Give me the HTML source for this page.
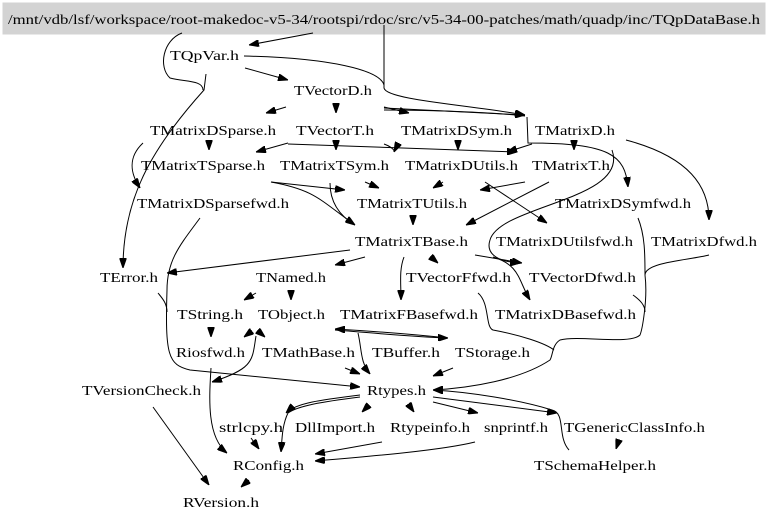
<!DOCTYPE html>
<html><head><meta charset="utf-8"><style>
html,body{margin:0;padding:0;background:#fff;}
svg{display:block;}
text{font-family:"Liberation Serif",serif;font-size:14px;fill:#000;}
path{fill:none;stroke:#000;stroke-width:1;}
</style></head><body>
<svg width="768" height="520" viewBox="0 0 768 520" xmlns="http://www.w3.org/2000/svg">
<defs><marker id="a" markerWidth="10" markerHeight="7" refX="10" refY="3.5" orient="auto" markerUnits="userSpaceOnUse"><path d="M0,0 L10,3.5 L0,7 z" style="fill:#000;stroke:#000"/></marker></defs>
<rect x="3" y="3" width="762" height="31" fill="#d3d3d3" stroke="#d3d3d3"/>
<text x="8" y="24" textLength="752" lengthAdjust="spacingAndGlyphs">/mnt/vdb/lsf/workspace/root-makedoc-v5-34/rootspi/rdoc/src/v5-34-00-patches/math/quadp/inc/TQpDataBase.h</text>
<g>
<text x="170" y="60" textLength="69" lengthAdjust="spacingAndGlyphs">TQpVar.h</text>
<text x="294" y="95" textLength="78" lengthAdjust="spacingAndGlyphs">TVectorD.h</text>
<text x="150" y="135" textLength="126" lengthAdjust="spacingAndGlyphs">TMatrixDSparse.h</text>
<text x="296" y="135" textLength="78" lengthAdjust="spacingAndGlyphs">TVectorT.h</text>
<text x="401" y="135" textLength="111" lengthAdjust="spacingAndGlyphs">TMatrixDSym.h</text>
<text x="535" y="135" textLength="80" lengthAdjust="spacingAndGlyphs">TMatrixD.h</text>
<text x="141" y="170" textLength="124" lengthAdjust="spacingAndGlyphs">TMatrixTSparse.h</text>
<text x="280" y="170" textLength="109" lengthAdjust="spacingAndGlyphs">TMatrixTSym.h</text>
<text x="405" y="170" textLength="113" lengthAdjust="spacingAndGlyphs">TMatrixDUtils.h</text>
<text x="532" y="170" textLength="78" lengthAdjust="spacingAndGlyphs">TMatrixT.h</text>
<text x="137" y="208" textLength="152" lengthAdjust="spacingAndGlyphs">TMatrixDSparsefwd.h</text>
<text x="357" y="208" textLength="110" lengthAdjust="spacingAndGlyphs">TMatrixTUtils.h</text>
<text x="555" y="208" textLength="136" lengthAdjust="spacingAndGlyphs">TMatrixDSymfwd.h</text>
<text x="355" y="246" textLength="113" lengthAdjust="spacingAndGlyphs">TMatrixTBase.h</text>
<text x="496" y="246" textLength="137" lengthAdjust="spacingAndGlyphs">TMatrixDUtilsfwd.h</text>
<text x="651" y="246" textLength="106" lengthAdjust="spacingAndGlyphs">TMatrixDfwd.h</text>
<text x="100" y="282" textLength="58" lengthAdjust="spacingAndGlyphs">TError.h</text>
<text x="256" y="282" textLength="70" lengthAdjust="spacingAndGlyphs">TNamed.h</text>
<text x="406" y="282" textLength="105" lengthAdjust="spacingAndGlyphs">TVectorFfwd.h</text>
<text x="529" y="282" textLength="107" lengthAdjust="spacingAndGlyphs">TVectorDfwd.h</text>
<text x="177" y="319" textLength="66" lengthAdjust="spacingAndGlyphs">TString.h</text>
<text x="258" y="319" textLength="67" lengthAdjust="spacingAndGlyphs">TObject.h</text>
<text x="340" y="319" textLength="138" lengthAdjust="spacingAndGlyphs">TMatrixFBasefwd.h</text>
<text x="495" y="319" textLength="141" lengthAdjust="spacingAndGlyphs">TMatrixDBasefwd.h</text>
<text x="176" y="357" textLength="69" lengthAdjust="spacingAndGlyphs">Riosfwd.h</text>
<text x="262" y="357" textLength="93" lengthAdjust="spacingAndGlyphs">TMathBase.h</text>
<text x="372" y="357" textLength="68" lengthAdjust="spacingAndGlyphs">TBuffer.h</text>
<text x="455" y="357" textLength="75" lengthAdjust="spacingAndGlyphs">TStorage.h</text>
<text x="82" y="395" textLength="119" lengthAdjust="spacingAndGlyphs">TVersionCheck.h</text>
<text x="367" y="395" textLength="59" lengthAdjust="spacingAndGlyphs">Rtypes.h</text>
<text x="219" y="432" textLength="64" lengthAdjust="spacingAndGlyphs">strlcpy.h</text>
<text x="295" y="432" textLength="80" lengthAdjust="spacingAndGlyphs">DllImport.h</text>
<text x="390" y="432" textLength="80" lengthAdjust="spacingAndGlyphs">Rtypeinfo.h</text>
<text x="484" y="432" textLength="64" lengthAdjust="spacingAndGlyphs">snprintf.h</text>
<text x="564" y="432" textLength="141" lengthAdjust="spacingAndGlyphs">TGenericClassInfo.h</text>
<text x="233" y="470" textLength="71" lengthAdjust="spacingAndGlyphs">RConfig.h</text>
<text x="534" y="470" textLength="122" lengthAdjust="spacingAndGlyphs">TSchemaHelper.h</text>
<text x="183" y="507" textLength="76" lengthAdjust="spacingAndGlyphs">RVersion.h</text>
</g>
<g>
<path d="M313,33 L249,45" marker-end="url(#a)"/>
<path d="M182,33 C163,40 158,67 170,78 C185,82 203,80 203,90"/>
<path d="M206,74 L204,90 C150,150 123,200 123,268" marker-end="url(#a)"/>
<path d="M384,25 L384,88 C386,100 470,105 525,115" marker-end="url(#a)"/>
<path d="M244,56 C330,58 380,70 384,85"/>
<path d="M245,68 L288,80" marker-end="url(#a)"/>
<path d="M286,107 L266,113" marker-end="url(#a)"/>
<path d="M336,106 L336,113" marker-end="url(#a)"/>
<path d="M384,107 L409,113" marker-end="url(#a)"/>
<path d="M384,108 L525,115" marker-end="url(#a)"/>
<path d="M384,110 C440,110 500,113 525,116"/>
<path d="M143,143 C128,157 130,173 140,188" marker-end="url(#a)"/>
<path d="M209,143 L209,150" marker-end="url(#a)"/>
<path d="M288,143 L256,152" marker-end="url(#a)"/>
<path d="M336,143 L336,150" marker-end="url(#a)"/>
<path d="M288,144 C400,148 470,150 517,152" marker-end="url(#a)"/>
<path d="M384,144 C390,146 395,150 394,152" marker-end="url(#a)"/>
<path d="M458,143 L458,150" marker-end="url(#a)"/>
<path d="M532,144 L507,152" marker-end="url(#a)"/>
<path d="M574,143 L574,150" marker-end="url(#a)"/>
<path d="M527,117 L528,143 C610,143 625,155 628,187" marker-end="url(#a)"/>
<path d="M626,140 C690,157 709,187 709,220" marker-end="url(#a)"/>
<path d="M549,182 L466,225" marker-end="url(#a)"/>
<path d="M612,150 C630,200 500,205 490,240 C485,255 500,262 520,263" marker-end="url(#a)"/>
<path d="M271,182 L345,190" marker-end="url(#a)"/>
<path d="M271,182 C315,190 320,200 355,225" marker-end="url(#a)"/>
<path d="M330,183 C330,197 335,213 355,225"/>
<path d="M365,182 L379,188" marker-end="url(#a)"/>
<path d="M443,182 L433,188" marker-end="url(#a)"/>
<path d="M525,182 L480,190" marker-end="url(#a)"/>
<path d="M485,182 L547,223" marker-end="url(#a)"/>
<path d="M413,218 L413,225" marker-end="url(#a)"/>
<path d="M200,218 C180,245 167,260 167,290 C165,355 168,365 190,370 L360,387" marker-end="url(#a)"/>
<path d="M350,250 L167,273" marker-end="url(#a)"/>
<path d="M365,257 L335,265" marker-end="url(#a)"/>
<path d="M404,257 C399,270 401,283 401,300" marker-end="url(#a)"/>
<path d="M431,257 L438,263" marker-end="url(#a)"/>
<path d="M475,255 L522,263" marker-end="url(#a)"/>
<path d="M493,257 C520,265 518,280 530,300" marker-end="url(#a)"/>
<path d="M638,218 C645,235 645,255 645,275"/>
<path d="M709,255 C690,260 645,262 645,275"/>
<path d="M633,295 C640,300 645,305 645,312"/>
<path d="M645,275 C648,300 642,330 640,335 C630,345 580,335 560,340 C552,345 553,355 550,360 C520,380 470,388 433,390" marker-end="url(#a)"/>
<path d="M478,293 C490,303 485,327 493,330 C520,335 545,343 554,350"/>
<path d="M158,293 C162,298 167,303 167,312"/>
<path d="M256,293 L244,300" marker-end="url(#a)"/>
<path d="M291,292 L291,300" marker-end="url(#a)"/>
<path d="M211,329 L211,337" marker-end="url(#a)"/>
<path d="M256,336 C252,360 255,368 212,382" marker-end="url(#a)"/>
<path d="M252,331 L244,337" marker-end="url(#a)"/>
<path d="M258,331 L265,337" marker-end="url(#a)"/>
<path d="M335,330 C374,333 414,337 448,338" marker-end="url(#a)"/>
<path d="M448,338 C410,334 370,331 335,329" marker-end="url(#a)"/>
<path d="M358,333 C362,350 360,362 370,374" marker-end="url(#a)"/>
<path d="M345,368 L360,374" marker-end="url(#a)"/>
<path d="M453,368 L433,376" marker-end="url(#a)"/>
<path d="M360,395 C320,400 296,403 286,413" marker-end="url(#a)"/>
<path d="M360,397 C320,402 298,406 288,413"/>
<path d="M288,413 C282,425 282,440 281,452" marker-end="url(#a)"/>
<path d="M369,405 L362,412" marker-end="url(#a)"/>
<path d="M409,405 L414,412" marker-end="url(#a)"/>
<path d="M433,402 L478,413" marker-end="url(#a)"/>
<path d="M433,397 L557,413" marker-end="url(#a)"/>
<path d="M569,450 C557,437 566,413 552,410 C520,400 470,392 433,390" marker-end="url(#a)"/>
<path d="M618,443 L616,449" marker-end="url(#a)"/>
<path d="M251,438 L259,449" marker-end="url(#a)"/>
<path d="M382,442 L315,454" marker-end="url(#a)"/>
<path d="M475,442 C443,450 375,456 315,461" marker-end="url(#a)"/>
<path d="M211,368 C209,400 207,437 227,453" marker-end="url(#a)"/>
<path d="M153,407 L209,485" marker-end="url(#a)"/>
<path d="M249,480 L241,487" marker-end="url(#a)"/>
</g>
</svg>
</body></html>
